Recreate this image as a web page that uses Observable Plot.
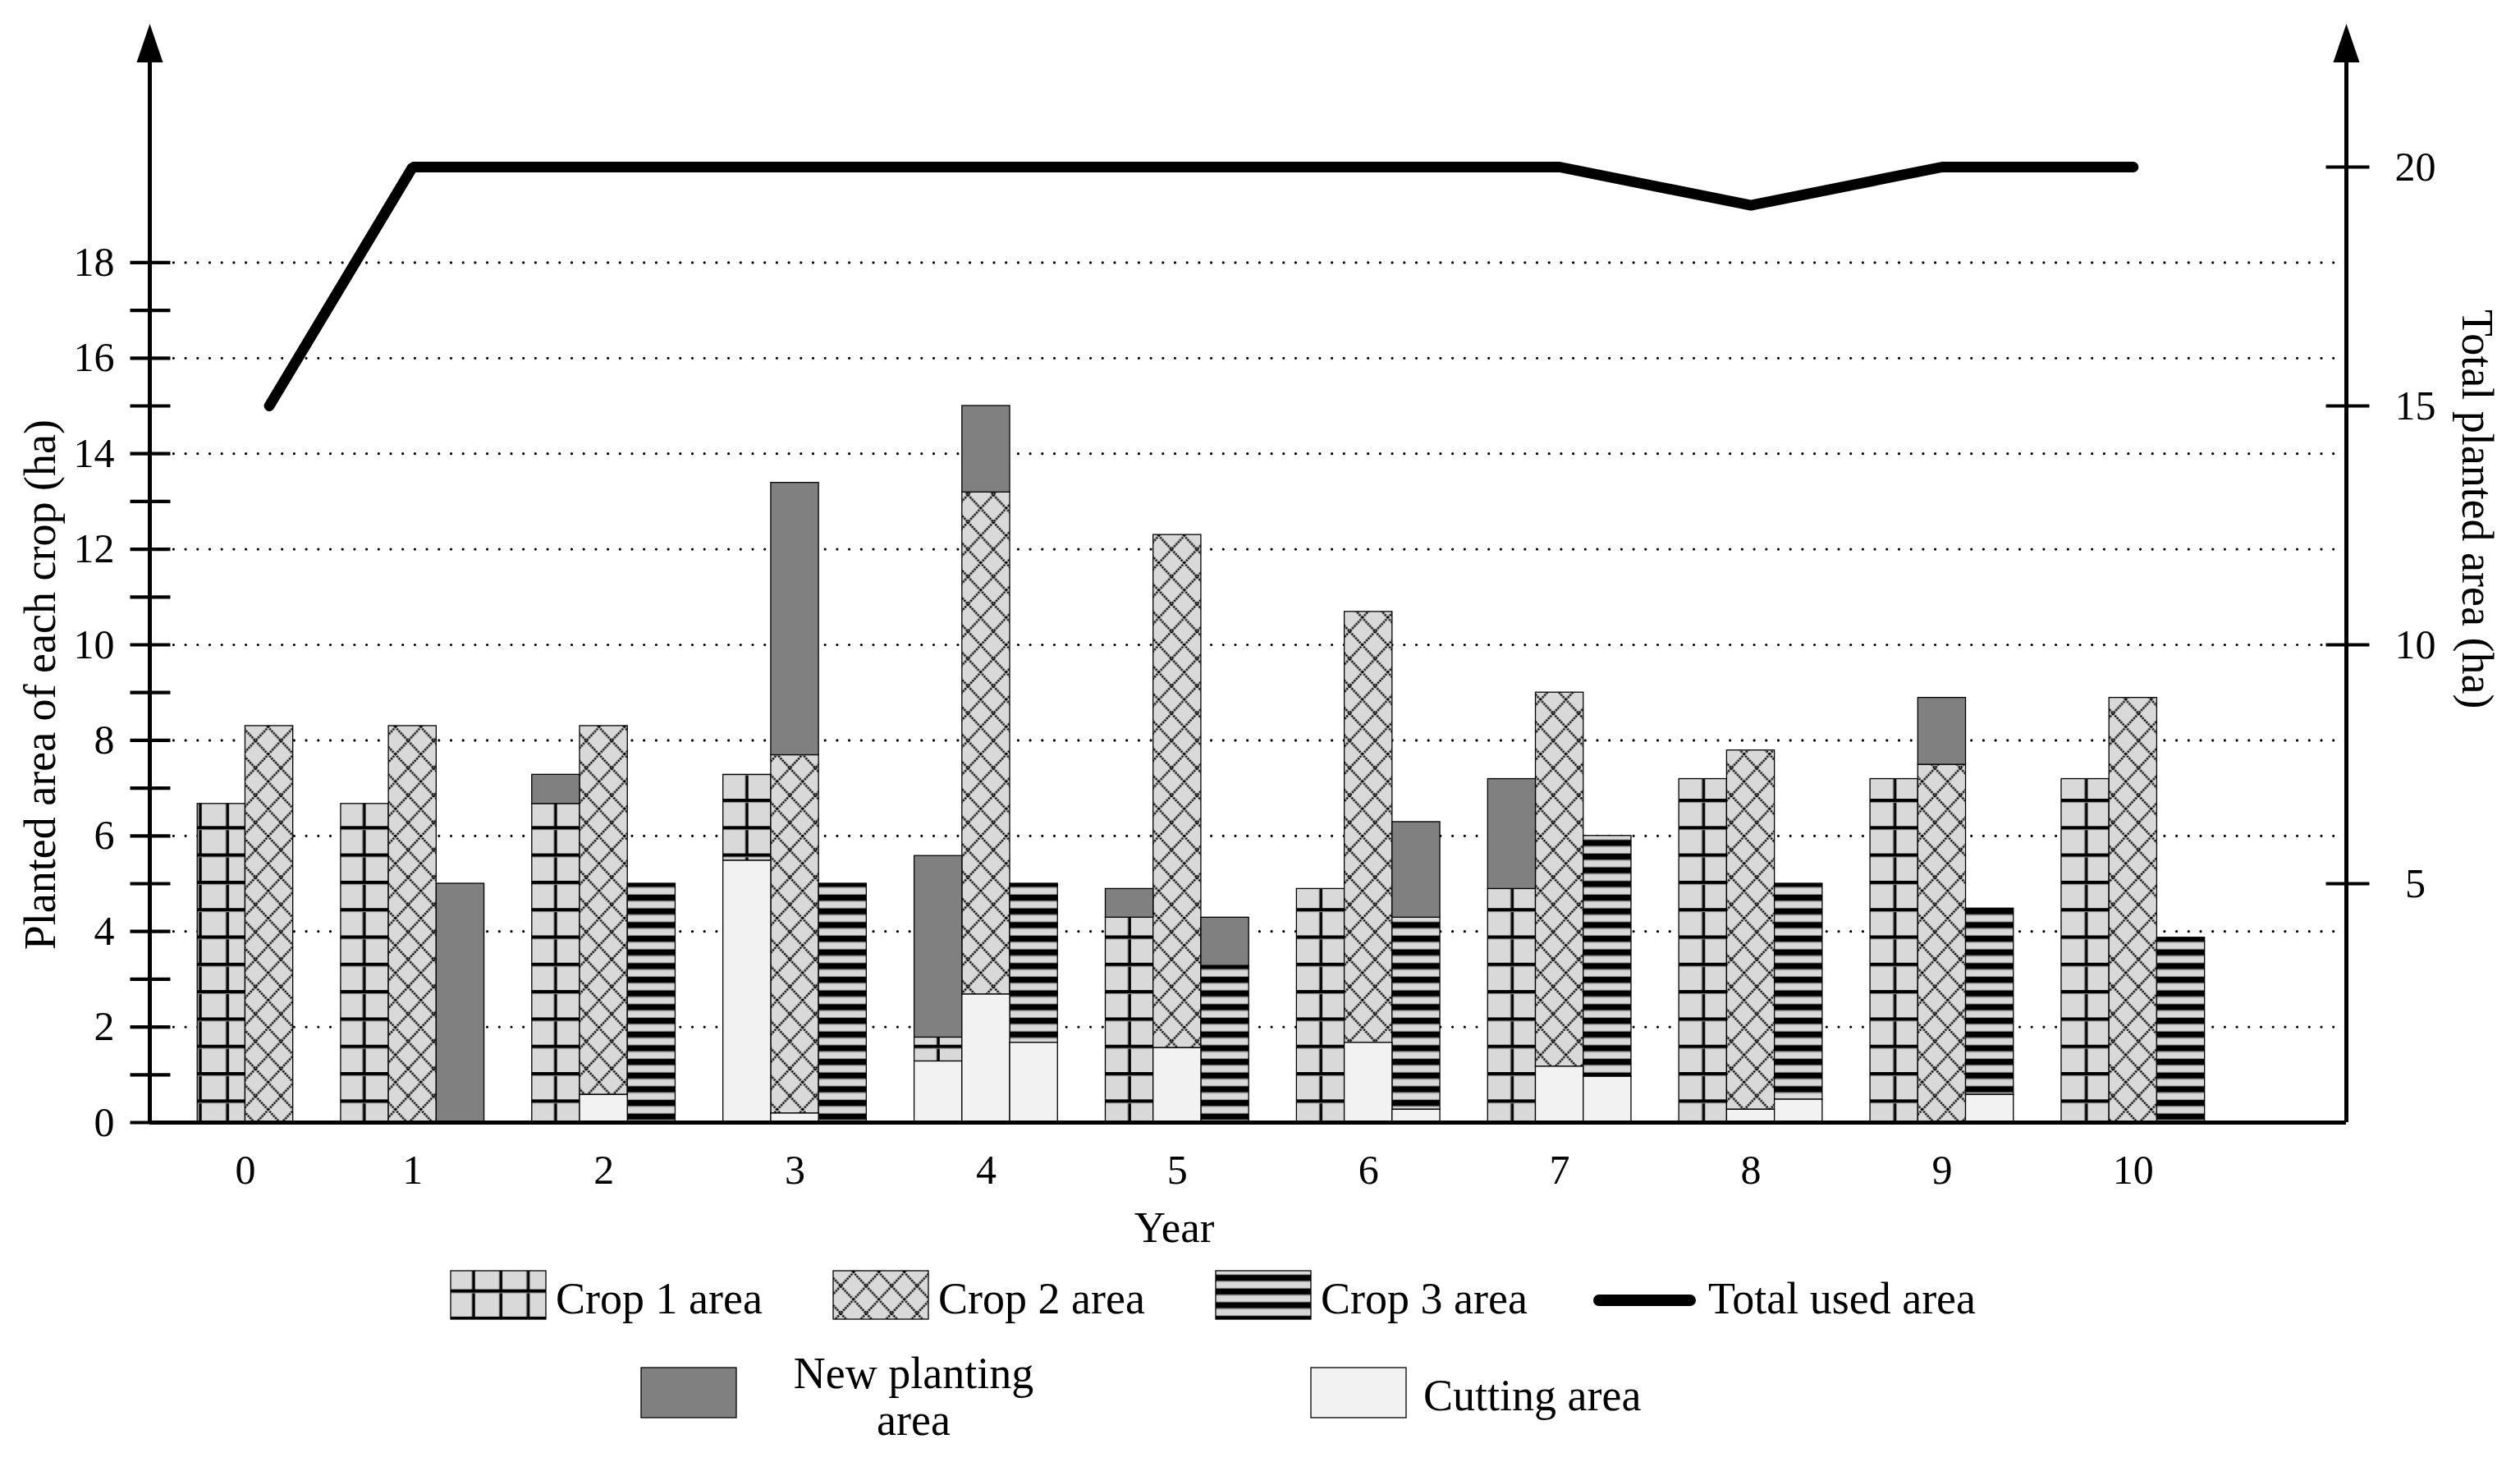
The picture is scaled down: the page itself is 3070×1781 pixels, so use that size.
<!DOCTYPE html>
<html><head><meta charset="utf-8">
<script src="https://cdn.jsdelivr.net/npm/d3@7"></script>
<script src="https://cdn.jsdelivr.net/npm/@observablehq/plot@0.6"></script>
<style>
html,body{margin:0;padding:0;background:#fff;}
#wrap{position:relative;width:3070px;height:1781px;overflow:hidden;background:#fff;font-family:'Liberation Serif',serif;}
#legend{position:absolute;left:0;top:1530px;}
</style></head><body><div id="wrap"></div>
<script>
// ---------------- data ----------------
const years = [0,1,2,3,4,5,6,7,8,9,10];
const crops = ["Crop 1", "Crop 2", "Crop 3"];
// top of each crop's own (patterned) area, the cutting part sits at its bottom
const crop1Area = [6.67,6.67,6.67,7.28,1.78,4.29,4.89,4.89,7.19,7.19,7.19];
const crop2Area = [8.3,8.3,8.3,7.69,13.19,12.3,10.69,9.0,7.79,7.49,8.89];
const crop3Area = [0,0,5.0,5.0,5.0,3.28,4.29,6.0,5.0,4.48,3.87];
// new planting area stacked on top of each crop bar
const crop1New = [0,0,0.61,0,3.8,0.6,0,2.3,0,0,0];
const crop2New = [0,0,0,5.7,1.81,0,0,0,0,1.4,0];
const crop3New = [0,5.0,0,0,0,1.01,2.0,0,0,0,0];
// cutting area at the bottom of each crop bar
const crop1Cut = [0,0,0,5.48,1.28,0,0,0,0,0,0];
const crop2Cut = [0,0,0.58,0.19,2.68,1.56,1.67,1.17,0.27,0,0];
const crop3Cut = [0,0,0,0,1.67,0,0.27,0.96,0.48,0.58,0];
// total used area (right axis)
const totalUsed = [15,20,20,20,20,20,20,20,19.2,20,20];
// ticks
const leftTicks = d3.range(0,19);
const leftLabels = d3.range(0,19,2);
const rightTicks = [5,10,15,20];
const gridValues = d3.range(2,19,2);
const legendRow1 = ["Crop 1 area","Crop 2 area","Crop 3 area","Total used area"];
const legendRow2 = ["New planting area","Cutting area"];

// ---------------- build ----------------
const areas = [crop1Area, crop2Area, crop3Area];
const news = [crop1New, crop2New, crop3New];
const cuts = [crop1Cut, crop2Cut, crop3Cut];
const slot = 0.25;
const xMax = 11.49;

const groups = years.map((yr, i) => {
  const n = areas.filter((a, k) => a[i] + news[k][i] > 0).length;
  const start = i + (3 - n) * slot;
  return {yr, i, n, start};
});
const segs = [];
groups.forEach(g => {
  crops.forEach((c, k) => {
    const x1 = g.start + k * slot, x2 = x1 + slot;
    const cut = cuts[k][g.i], top = areas[k][g.i], nw = news[k][g.i];
    if (cut > 0) segs.push({kind: "cut", x1, x2, y1: 0, y2: cut});
    if (top > cut) segs.push({kind: "crop" + (k + 1), x1, x2, y1: cut, y2: top});
    if (nw > 0) segs.push({kind: "new", x1, x2, y1: top, y2: top + nw});
  });
});
const lineData = groups.map(g => ({x: g.start + 1.5 * slot, y: totalUsed[g.i]}));

const arrowSym = {draw(ctx) { ctx.moveTo(0, 0); ctx.lineTo(16, 47); ctx.lineTo(-16, 47); ctx.closePath(); }};
const tickL = {draw(ctx) { ctx.moveTo(-24, 0); ctx.lineTo(25, 0); }};
const tickR = {draw(ctx) { ctx.moveTo(-25, 0); ctx.lineTo(28, 0); }};

const W = 3070, H = 1530;
const fs = 50;
const rectOpts = (fill) => ({x1: "x1", x2: "x2", y1: "y1", y2: "y2", fill, stroke: "black", strokeWidth: 1.3});

const chart = Plot.plot({
  width: W, height: H,
  marginLeft: 182, marginRight: W - 2858, marginTop: 28.4, marginBottom: H - 1367,
  style: {fontFamily: "'Liberation Serif', serif", background: "white", color: "black", overflow: "visible"},
  x: {domain: [0, xMax], axis: null},
  y: {domain: [0, 23], axis: null},
  marks: [
    Plot.ruleY(gridValues, {stroke: "black", strokeWidth: 3.2, strokeDasharray: "0,14.7", strokeLinecap: "round"}),
    Plot.rect(segs.filter(d => d.kind === "crop1"), rectOpts("url(#pat-crop1)")),
    Plot.rect(segs.filter(d => d.kind === "crop2"), rectOpts("url(#pat-crop2)")),
    Plot.rect(segs.filter(d => d.kind === "crop3"), rectOpts("url(#pat-crop3)")),
    Plot.rect(segs.filter(d => d.kind === "new"), rectOpts("#808080")),
    Plot.rect(segs.filter(d => d.kind === "cut"), rectOpts("#f2f2f2")),
    Plot.line(lineData, {x: "x", y: "y", stroke: "black", strokeWidth: 13, strokeLinecap: "round", strokeLinejoin: "miter"}),
    Plot.ruleY([0], {stroke: "black", strokeWidth: 5}),
    Plot.ruleX([0], {y1: 0, y2: 22.4, stroke: "black", strokeWidth: 5}),
    Plot.ruleX([xMax], {y1: 0, y2: 22.4, stroke: "black", strokeWidth: 5}),
    Plot.dot([0, xMax], {x: d => d, y: () => 23, symbol: arrowSym, fill: "black", stroke: "none", r: 10}),
    Plot.dot(leftTicks, {x: () => 0, y: d => d, symbol: tickL, fill: "none", stroke: "black", strokeWidth: 4.2, r: 10}),
    Plot.dot(rightTicks, {x: () => xMax, y: d => d, symbol: tickR, fill: "none", stroke: "black", strokeWidth: 4.2, r: 10}),
    Plot.text(leftLabels, {y: d => d, text: d => String(d), frameAnchor: "left", textAnchor: "end", dx: -43, fontSize: fs, fill: "black"}),
    Plot.text(rightTicks, {y: d => d, text: d => String(d), frameAnchor: "right", textAnchor: "middle", dx: 84, fontSize: fs, fill: "black"}),
    Plot.text(groups, {x: d => d.start + d.n * slot / 2, y: () => 0, text: d => String(d.yr), dy: 58, fontSize: fs, fill: "black"}),
    Plot.text(["Year"], {text: d => d, frameAnchor: "bottom", textAnchor: "middle", dx: -90, dy: 145, fontSize: 53, fill: "black"}),
    Plot.text(["Planted area of each crop (ha)"], {text: d => d, frameAnchor: "left", textAnchor: "middle", rotate: -90, dx: -133, dy: 136, fontSize: 54, fill: "black"}),
    Plot.text(["Total planted area (ha)"], {text: d => d, frameAnchor: "right", textAnchor: "middle", rotate: 90, dx: 159, dy: -78, fontSize: 54, fill: "black"})
  ]
});

// patterns
const defs = d3.select(chart).insert("defs", ":first-child");
const p1 = defs.append("pattern").attr("id", "pat-crop1").attr("patternUnits", "userSpaceOnUse")
  .attr("x", 0).attr("y", 7.3).attr("width", 33.3).attr("height", 33.3);
p1.append("rect").attr("width", 33.3).attr("height", 33.3).attr("fill", "#d9d9d9");
p1.append("rect").attr("x", 8.2).attr("width", 1).attr("height", 33.3).attr("fill", "#9a9a9a");
p1.append("rect").attr("x", 9.2).attr("width", 3.4).attr("height", 33.3).attr("fill", "#000");
p1.append("rect").attr("y", 4).attr("width", 33.3).attr("height", 1).attr("fill", "#9a9a9a");
p1.append("rect").attr("y", 0).attr("width", 33.3).attr("height", 4).attr("fill", "#000");

const p2 = defs.append("pattern").attr("id", "pat-crop2").attr("patternUnits", "userSpaceOnUse")
  .attr("x", 16.7).attr("y", 20).attr("width", 31).attr("height", 33.3);
p2.append("rect").attr("width", 31).attr("height", 33.3).attr("fill", "#d9d9d9");
p2.append("path").attr("d", "M-3,-3.2L34,36.5M34,-3.2L-3,36.5").attr("stroke", "#000").attr("stroke-width", 2.6).attr("stroke-dasharray", "2.2,1.2");

const p3 = defs.append("pattern").attr("id", "pat-crop3").attr("patternUnits", "userSpaceOnUse")
  .attr("x", 0).attr("y", 6.5).attr("width", 20).attr("height", 16.67);
p3.append("rect").attr("width", 20).attr("height", 16.67).attr("fill", "#d9d9d9");
p3.append("rect").attr("y", 0).attr("width", 20).attr("height", 7.4).attr("fill", "#000");
p3.append("rect").attr("y", 7.4).attr("width", 20).attr("height", 1).attr("fill", "#8c8c8c");
p3.append("rect").attr("y", 15.67).attr("width", 20).attr("height", 1).attr("fill", "#8c8c8c");

const wrap = document.getElementById("wrap");
wrap.appendChild(chart);

// legend (below the chart svg)
const lg = d3.select(wrap).append("svg").attr("id", "legend").attr("width", W).attr("height", 1781 - H)
  .style("font-family", "'Liberation Serif', serif").style("font-size", "54px");
const row1 = [
  {label: legendRow1[0], type: "swatch", fill: "url(#pat-crop1)", x: 549},
  {label: legendRow1[1], type: "swatch", fill: "url(#pat-crop2)", x: 1015},
  {label: legendRow1[2], type: "swatch", fill: "url(#pat-crop3)", x: 1481},
  {label: legendRow1[3], type: "line", x: 1948}
];
row1.forEach(d => {
  if (d.type === "swatch") {
    lg.append("rect").attr("x", d.x).attr("y", 18).attr("width", 116).attr("height", 59)
      .attr("fill", d.fill).attr("stroke", "#000").attr("stroke-width", 1.3);
    lg.append("text").attr("x", d.x + 128).attr("y", 70).text(d.label);
  } else {
    lg.append("line").attr("x1", d.x).attr("x2", d.x + 111).attr("y1", 54).attr("y2", 54)
      .attr("stroke", "#000").attr("stroke-width", 14).attr("stroke-linecap", "round");
    lg.append("text").attr("x", d.x + 133).attr("y", 70).text(d.label);
  }
});
// row 2
lg.append("rect").attr("x", 781).attr("y", 136).attr("width", 116).attr("height", 61)
  .attr("fill", "#808080").attr("stroke", "#000").attr("stroke-width", 1.3);
const np = legendRow2[0].split(" ");
lg.append("text").attr("x", 1113).attr("y", 161).attr("text-anchor", "middle").text(np.slice(0, 2).join(" "));
lg.append("text").attr("x", 1113).attr("y", 218).attr("text-anchor", "middle").text(np.slice(2).join(" "));
lg.append("rect").attr("x", 1597).attr("y", 136).attr("width", 116).attr("height", 61)
  .attr("fill", "#f2f2f2").attr("stroke", "#000").attr("stroke-width", 1.3);
lg.append("text").attr("x", 1734).attr("y", 188).text(legendRow2[1]);
</script></body></html>
